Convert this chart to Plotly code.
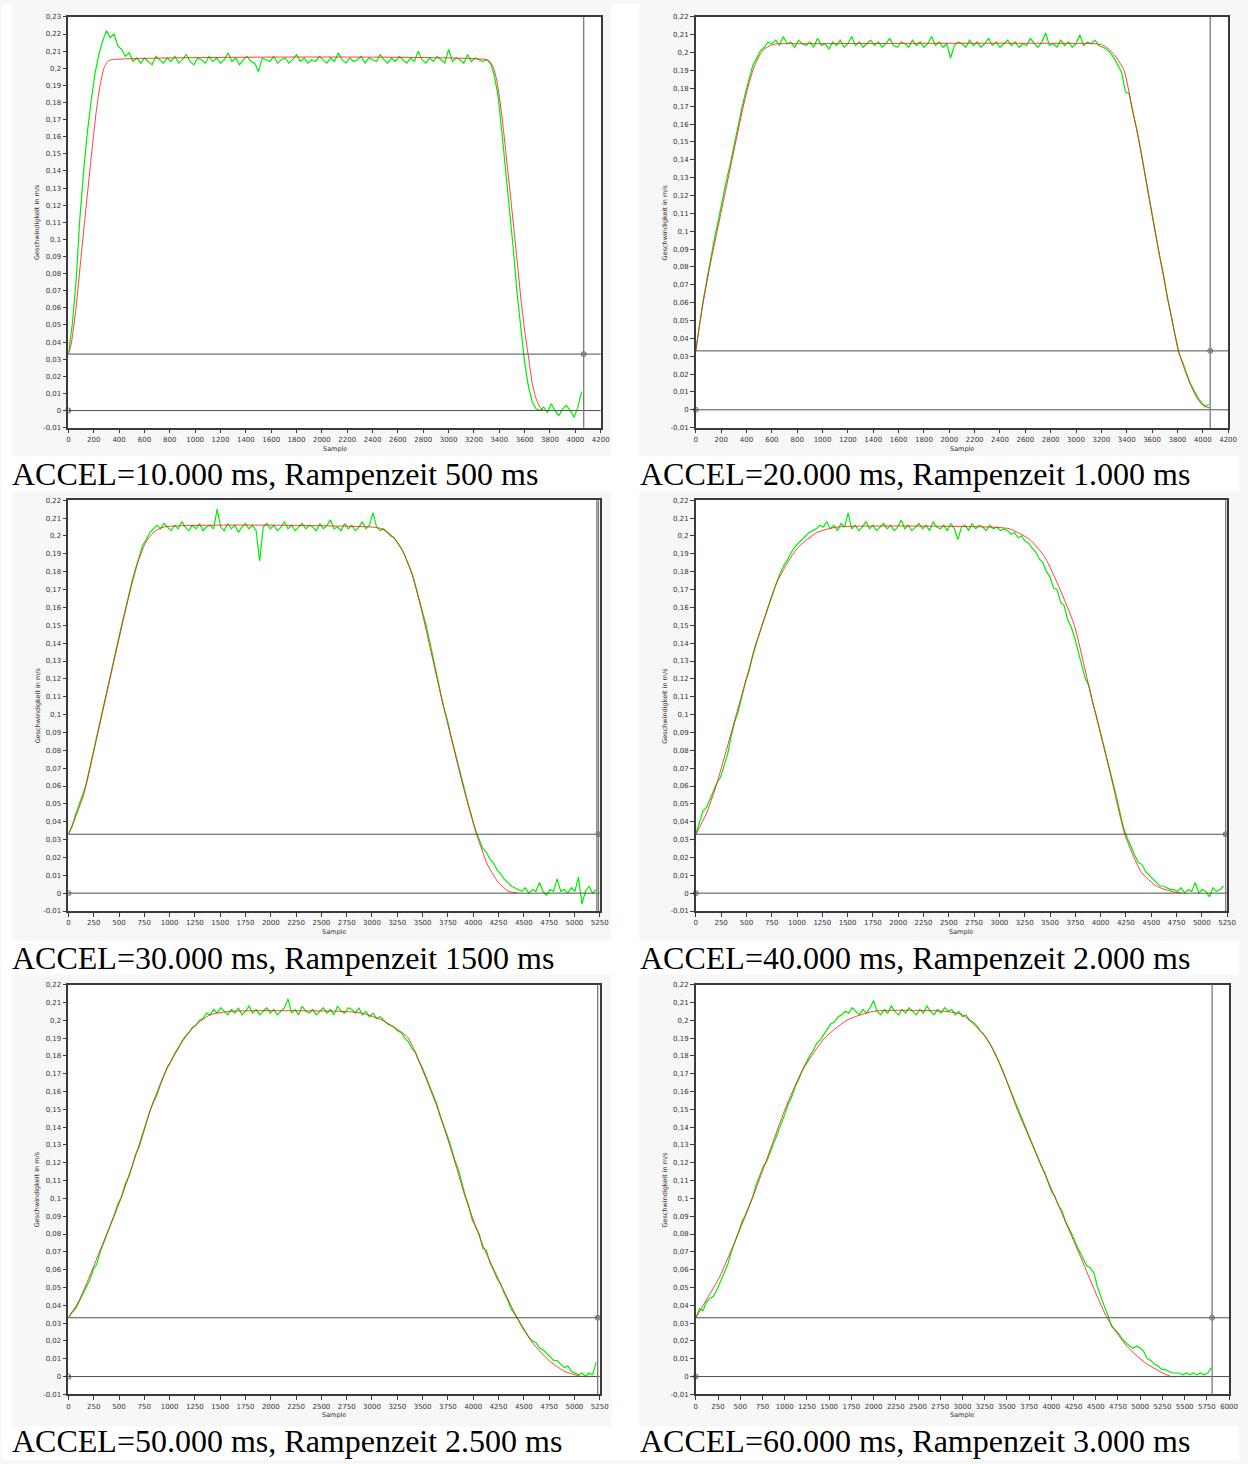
import numpy as np
import plotly.graph_objects as go

W, H = 1248, 1464

# ------------------------------------------------------------------ data
TITLES = [
    "ACCEL=10.000 ms, Rampenzeit 500 ms",
    "ACCEL=20.000 ms, Rampenzeit 1.000 ms",
    "ACCEL=30.000 ms, Rampenzeit 1500 ms",
    "ACCEL=40.000 ms, Rampenzeit 2.000 ms",
    "ACCEL=50.000 ms, Rampenzeit 2.500 ms",
    "ACCEL=60.000 ms, Rampenzeit 3.000 ms",
]
X_TITLE = "Sample"
Y_TITLE = "Geschwindigkeit in m/s"
X_MAX = [4200, 4200, 5250, 5250, 5250, 6000]
X_TICK_STEP = [200, 200, 250, 250, 250, 250]
Y_MIN = -0.01
Y_MAX = [0.23, 0.22, 0.22, 0.22, 0.22, 0.22]
TRIGGER = 0.033
CURSOR_X = [[4066], [4059], [5222, 5238], [5236], [5230], [5809]]

# measured speed (green), mm/s, one value every GREEN_STEP samples from sample 0
GREEN_STEP = [30, 30, 35, 35, 35, 40]
GREEN1 = [
    33, 50, 75, 112, 140, 163, 181, 197, 208, 216,
    222, 218, 220, 213, 211, 207, 209, 204, 206, 203,
    206, 204, 202, 207, 205, 203, 206, 204, 207, 203,
    205, 208, 204, 202, 206, 205, 203, 207, 204, 206,
    203, 205, 209, 204, 206, 202, 205, 207, 204, 203,
    198, 206, 205, 204, 207, 203, 205, 206, 203, 205,
    208, 204, 206, 203, 205, 204, 207, 205, 203, 206,
    204, 209, 205, 203, 206, 204, 205, 207, 203, 206,
    205, 204, 208, 205, 203, 206, 204, 207, 205, 203,
    206, 204, 210, 205, 203, 206, 204, 207, 205, 203,
    211, 204, 206, 205, 203, 208, 204, 206, 205, 204,
    205, 203, 196, 184, 163, 141, 119, 95, 69, 47,
    28, 14, 5, 1, 0, 2, -1, 4, 0, -3,
    1, 3, 0, -4, 2, 11,
]
GREEN2 = [
    33, 48, 62, 74, 86, 97, 107, 118, 128, 137,
    148, 158, 168, 177, 185, 193, 197, 201, 203, 206,
    205, 207, 204, 209, 205, 206, 203, 207, 205, 204,
    206, 203, 208, 204, 205, 202, 206, 204, 207, 203,
    205, 209, 204, 206, 203, 205, 207, 204, 206, 203,
    205, 208, 204, 203, 206, 205, 203, 207, 204, 206,
    203, 205, 209, 204, 206, 203, 205, 197, 204, 206,
    205, 203, 207, 204, 206, 203, 205, 208, 204, 206,
    203, 205, 207, 204, 206, 203, 205, 204, 208, 205,
    203, 206, 211, 204, 205, 203, 207, 204, 206, 203,
    205, 210, 204, 206, 205, 207, 204, 203, 202, 200,
    197, 193, 189, 178, 177, 166, 157, 146, 134, 121,
    110, 99, 86, 76, 63, 53, 43, 32, 27, 21,
    15, 11, 7, 4, 2, 3,
]
GREEN3 = [
    33, 37, 44, 49, 55, 61, 70, 79, 88, 96,
    106, 114, 123, 132, 141, 150, 158, 167, 175, 182,
    189, 195, 198, 202, 204, 206, 204, 207, 205, 203,
    206, 204, 208, 205, 203, 206, 204, 207, 203, 205,
    206, 204, 215, 205, 203, 207, 204, 206, 202, 205,
    207, 204, 206, 203, 186, 205, 207, 204, 206, 203,
    205, 208, 204, 206, 203, 205, 207, 204, 206, 205,
    203, 207, 204, 206, 209, 204, 205, 203, 207, 204,
    206, 203, 205, 208, 204, 206, 213, 205, 203, 204,
    202, 200, 199, 196, 193, 189, 184, 179, 172, 165,
    158, 150, 141, 131, 122, 113, 104, 97, 88, 80,
    72, 65, 56, 49, 42, 35, 30, 25, 23, 19,
    17, 13, 11, 8, 6, 4, 3, 2, 1, 3,
    0, 2, 1, 6, 1, -1, 2, 1, 8, 1,
    2, 0, 3, 1, 9, -6, 1, 4, 0, 2,
]
GREEN4 = [
    33, 40, 46, 48, 53, 57, 62, 65, 71, 78,
    88, 96, 102, 110, 118, 124, 133, 140, 146, 152,
    158, 163, 169, 175, 180, 184, 187, 191, 194, 196,
    198, 200, 202, 203, 204, 206, 205, 208, 204, 206,
    203, 207, 205, 213, 204, 206, 203, 205, 208, 204,
    206, 203, 205, 207, 204, 206, 203, 205, 209, 204,
    206, 203, 205, 207, 204, 206, 203, 208, 205, 204,
    206, 203, 207, 204, 198, 205, 206, 203, 207, 204,
    206, 205, 203, 206, 204, 205, 203, 204, 203, 201,
    202, 199, 200, 197, 196, 193, 191, 187, 185, 180,
    177, 171, 170, 163, 161, 153, 149, 143, 135, 128,
    120, 116, 107, 100, 92, 85, 76, 69, 60, 52,
    43, 35, 30, 25, 21, 17, 16, 12, 10, 8,
    6, 4, 4, 3, 2, 2, 1, 3, 0, 2,
    1, 6, 0, 2, 1, -2, 3, 1, 2, 4,
]
GREEN5 = [
    33, 36, 38, 42, 46, 50, 54, 60, 63, 70,
    75, 80, 86, 91, 97, 101, 108, 112, 118, 125,
    129, 136, 142, 149, 154, 158, 164, 169, 174, 177,
    181, 184, 188, 191, 193, 196, 197, 200, 201, 204,
    203, 206, 204, 207, 205, 203, 206, 204, 207, 203,
    205, 208, 204, 206, 203, 205, 207, 204, 206, 203,
    205, 207, 212, 204, 206, 203, 208, 205, 204, 206,
    203, 205, 207, 204, 206, 203, 208, 205, 204, 207,
    206, 204, 207, 203, 205, 202, 204, 201, 202, 200,
    198, 197, 196, 194, 193, 190, 188, 184, 182, 177,
    173, 168, 163, 157, 153, 146, 141, 135, 129, 122,
    117, 109, 102, 96, 88, 84, 80, 72, 71, 64,
    60, 55, 52, 47, 43, 38, 35, 32, 28, 25,
    22, 20, 19, 16, 15, 13, 11, 9, 9, 7,
    5, 6, 3, 2, 1, 2, 0, 2, 1, 8,
]
GREEN6 = [
    33, 38, 37, 42, 44, 45, 49, 54, 58, 63,
    70, 75, 81, 87, 91, 96, 101, 108, 113, 118,
    121, 126, 131, 136, 141, 147, 153, 157, 163, 167,
    172, 176, 180, 183, 187, 189, 192, 195, 198, 199,
    202, 203, 205, 204, 207, 205, 203, 206, 204, 207,
    211, 205, 203, 206, 204, 208, 205, 203, 206, 204,
    207, 205, 203, 206, 204, 208, 205, 203, 206, 204,
    207, 205, 206, 203, 205, 202, 203, 200, 199, 197,
    194, 192, 189, 186, 182, 178, 173, 168, 163, 158,
    153, 149, 143, 138, 133, 128, 124, 119, 115, 109,
    104, 101, 96, 93, 87, 83, 79, 74, 70, 66,
    62, 61, 58, 50, 44, 39, 34, 28, 26, 24,
    21, 19, 17, 16, 17, 16, 14, 10, 9, 7,
    6, 4, 4, 3, 2, 2, 2, 1, 2, 1,
    2, 1, 2, 1, 2, 5,
]
GREENS = [GREEN1, GREEN2, GREEN3, GREEN4, GREEN5, GREEN6]

# set-point speed (red), m/s
RED1_X = [0, 20, 60, 100, 141, 180, 220, 250, 280, 310, 340,
          3300, 3330, 3355, 3380, 3405, 3430, 3460, 3500, 3540, 3574, 3600, 3629, 3660, 3690, 3720, 3750]
RED1_Y = [0.033, 0.038, 0.06, 0.09, 0.12, 0.148, 0.175, 0.19, 0.2, 0.204, 0.205,
          0.205, 0.2035, 0.2, 0.193, 0.181, 0.166, 0.145, 0.117, 0.088, 0.063, 0.047, 0.032, 0.016, 0.007, 0.002, 0.0]
RED2_X = [0, 15, 50, 110, 168, 227, 300, 375, 420, 460, 500, 540, 590, 640, 700,
          3150, 3200, 3250, 3300, 3340, 3380, 3440, 3500, 3600, 3700, 3809, 3860, 3910, 3960, 4010, 4059]
RED2_Y = [0.033, 0.041, 0.057, 0.08, 0.1, 0.12, 0.145, 0.17, 0.183, 0.192, 0.198, 0.202, 0.204, 0.205, 0.205,
          0.205, 0.2045, 0.2025, 0.199, 0.195, 0.19, 0.17, 0.149, 0.109, 0.071, 0.033, 0.022, 0.013, 0.006, 0.002, 0.001]
RED3_X = [0, 60, 150, 300, 450, 600, 680, 760, 840, 940,
          3000, 3100, 3200, 3300, 3400, 3500, 3600, 3700, 3800, 3900, 4033, 4150, 4250, 4350, 4440]
RED3_Y = [0.033, 0.041, 0.055, 0.092, 0.13, 0.167, 0.184, 0.196, 0.202, 0.205,
          0.205, 0.204, 0.2, 0.192, 0.178, 0.156, 0.131, 0.106, 0.083, 0.06, 0.033, 0.015, 0.006, 0.001, 0.0]
RED4_X = [0, 100, 200, 400, 600, 800, 1000, 1200, 1400,
          2900, 3100, 3300, 3450, 3600, 3740, 3900, 4100, 4239, 4400, 4550, 4700, 4800]
RED4_Y = [0.033, 0.044, 0.06, 0.1, 0.14, 0.174, 0.193, 0.202, 0.205,
          0.205, 0.204, 0.198, 0.188, 0.17, 0.15, 0.112, 0.066, 0.033, 0.012, 0.004, 0.001, 0.0]
RED5_X = [0, 100, 200, 350, 520, 670, 812, 950, 1100, 1250, 1400, 1600,
          2700, 2900, 3100, 3250, 3358, 3500, 3652, 3800, 3926, 4100, 4288, 4435, 4600, 4750, 4900, 5071]
RED5_Y = [0.033, 0.042, 0.055, 0.076, 0.1, 0.125, 0.15, 0.17, 0.186, 0.197, 0.203, 0.205,
          0.205, 0.204, 0.2, 0.195, 0.19, 0.172, 0.15, 0.124, 0.1, 0.073, 0.05, 0.033, 0.018, 0.009, 0.003, 0.0]
RED6_X = [0, 130, 268, 450, 636, 820, 1004, 1200, 1450, 1700, 2000,
          2800, 3000, 3270, 3450, 3616, 3830, 4047, 4330, 4627, 4850, 5050, 5250, 5352, 5441]
RED6_Y = [0.033, 0.044, 0.056, 0.077, 0.1, 0.125, 0.15, 0.172, 0.19, 0.2, 0.205,
          0.205, 0.203, 0.19, 0.172, 0.15, 0.125, 0.1, 0.067, 0.033, 0.017, 0.008, 0.002, 0.0, 0.0]
REDS = [(RED1_X, RED1_Y), (RED2_X, RED2_Y), (RED3_X, RED3_Y),
        (RED4_X, RED4_Y), (RED5_X, RED5_Y), (RED6_X, RED6_Y)]

# ------------------------------------------------------------------ layout (pixels)
PLOT_BOX = [(67, 604, 13, 426), (700, 1237, 13, 426),
            (67, 603, 499, 912), (700, 1236, 499, 912),
            (67, 603, 986, 1398), (700, 1238, 986, 1398)]
# white (non-screenshot) strips: x0, x1, y0, y1
WHITE_STRIPS = [(0, 10, 0, 1464), (615, 643, 0, 1464),
                (0, 1248, 455, 490), (0, 1248, 942, 976), (0, 1248, 1430, 1464)]
CAPTION_X = [8, 642]

TICK_FONT = dict(family="DejaVu Sans", size=7, color="#333333")
FRAME = "#3a3a3a"


def ytick_label(v):
    s = f"{v:.2f}".rstrip("0").rstrip(".")
    return s.replace(".", ",")


fig = go.Figure()
shapes, annotations = [], []
layout = {}

for x0, x1, y0, y1 in WHITE_STRIPS:
    shapes.append(dict(type="rect", xref="paper", yref="paper", layer="below",
                       x0=x0 / W, x1=x1 / W, y0=1 - y1 / H, y1=1 - y0 / H,
                       fillcolor="white", line=dict(width=0)))

for i in range(6):
    n = i + 1
    xa = "x" if n == 1 else f"x{n}"
    ya = "y" if n == 1 else f"y{n}"
    l, r, t, b = PLOT_BOX[i]

    g = np.array(GREENS[i], dtype=float) / 1000.0
    gx = np.arange(len(g)) * GREEN_STEP[i]
    fig.add_trace(go.Scatter(x=gx, y=g, mode="lines", xaxis=xa, yaxis=ya,
                             line=dict(color="#00ee00", width=1.2), hoverinfo="skip",
                             showlegend=False))
    rx, ry = REDS[i]
    fig.add_trace(go.Scatter(x=rx, y=ry, mode="lines", xaxis=xa, yaxis=ya,
                             line=dict(color="rgba(255,30,30,0.85)", width=1, shape="spline",
                                       smoothing=0.6),
                             hoverinfo="skip", showlegend=False))
    cx = CURSOR_X[i][-1]
    fig.add_trace(go.Scatter(x=[cx, 0], y=[TRIGGER, 0], mode="markers", xaxis=xa, yaxis=ya,
                             marker=dict(symbol="circle-x-open", size=5,
                                         color="#777777", line=dict(width=1)),
                             hoverinfo="skip", showlegend=False, cliponaxis=False))

    xticks = list(range(0, X_MAX[i] + 1, X_TICK_STEP[i]))
    yvals = [round(v, 2) for v in np.arange(Y_MIN, Y_MAX[i] + 0.0001, 0.01)]
    axis_common = dict(showgrid=False, zeroline=False, showline=True, mirror=True,
                       linecolor=FRAME, linewidth=1.5, ticks="outside", ticklen=4,
                       tickwidth=1, tickcolor=FRAME, tickfont=TICK_FONT)
    layout["xaxis" if n == 1 else f"xaxis{n}"] = dict(
        domain=[l / W, r / W], anchor=ya, range=[0, X_MAX[i]],
        tickmode="array", tickvals=xticks, ticktext=[str(v) for v in xticks],
        **axis_common)
    layout["yaxis" if n == 1 else f"yaxis{n}"] = dict(
        domain=[1 - b / H, 1 - t / H], anchor=xa, range=[Y_MIN, Y_MAX[i]],
        tickmode="array", tickvals=yvals, ticktext=[ytick_label(v) for v in yvals],
        **axis_common)

    for yv in (TRIGGER, 0.0):
        shapes.append(dict(type="line", xref=f"{xa} domain", yref=ya, x0=0, x1=1,
                           y0=yv, y1=yv, line=dict(color="#505050", width=1), layer="above"))
    for cv in CURSOR_X[i]:
        shapes.append(dict(type="line", xref=xa, yref=f"{ya} domain", x0=cv, x1=cv,
                           y0=0, y1=1, line=dict(color="#7a7a7a", width=1.3), layer="above"))

    annotations.append(dict(text=X_TITLE, xref="paper", yref="paper",
                            x=(l + r) / 2 / W, y=1 - (b + 21) / H, showarrow=False,
                            font=dict(family="DejaVu Sans", size=6.5, color="#333333"),
                            xanchor="center", yanchor="middle"))
    annotations.append(dict(text=Y_TITLE, xref="paper", yref="paper",
                            x=(l - 31) / W, y=1 - (t + b) / 2 / H, showarrow=False,
                            textangle=-90,
                            font=dict(family="DejaVu Sans", size=6.5, color="#333333"),
                            xanchor="center", yanchor="middle"))
    annotations.append(dict(text=TITLES[i], xref="paper", yref="paper",
                            x=CAPTION_X[i % 2] / W, y=1 - (b + 47) / H, showarrow=False,
                            font=dict(family="Liberation Serif", size=32, color="#000000"),
                            xanchor="left", yanchor="middle"))

fig.update_layout(width=W, height=H, margin=dict(l=0, r=0, t=0, b=0),
                  paper_bgcolor="#f7f7f7", plot_bgcolor="white",
                  shapes=shapes, annotations=annotations, **layout)

fig.write_html("out.html", config={"displayModeBar": False},
               post_script="document.body.style.margin='0';"
                           "document.body.style.overflow='hidden';")
